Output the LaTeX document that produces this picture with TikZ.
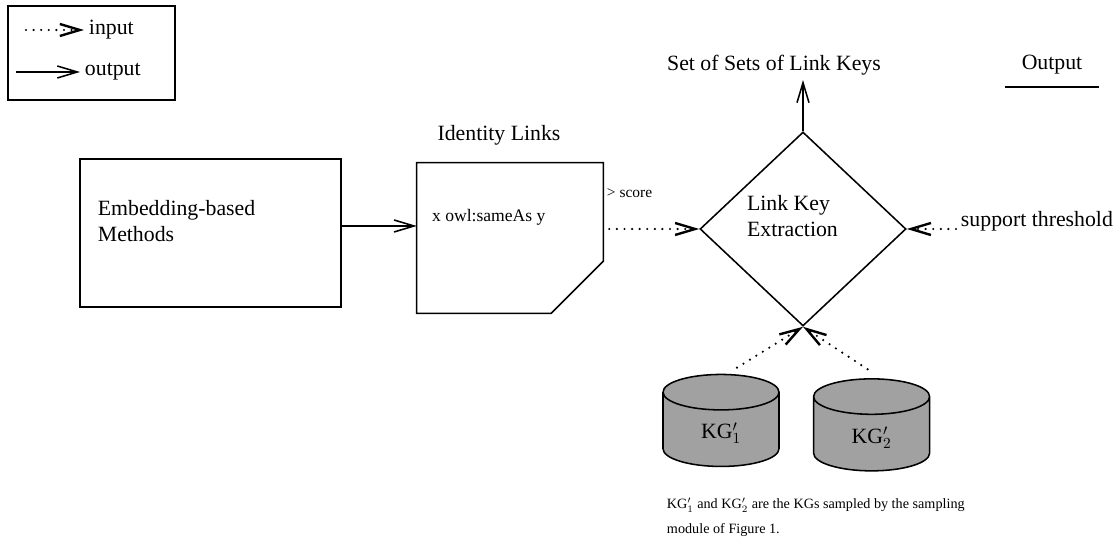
\documentclass[tikz,border=0pt]{standalone}
\usepackage{fontspec}
\setmainfont{Liberation Serif}
\usepackage{tikz}
\usetikzlibrary{shapes.geometric, arrows.meta}
\usetikzlibrary{calc}
\definecolor{kggray}{rgb}{0.63,0.63,0.63}
\tikzstyle{legendbox} = [rectangle, minimum width = 4.175cm, minimum height=2.35cm, draw = black, line width=1.1pt]
\tikzstyle{method} = [rectangle, minimum width = 6.525cm, minimum height=3.7cm, draw = black, line width=1.1pt]
\tikzstyle{links} = [rectangle, minimum width = 4.65cm, minimum height=3.75cm, inner sep=0pt]
\tikzstyle{decision} = [diamond, minimum width = 5.15cm, minimum height=4.85cm, inner sep=0pt, draw = black, line width=1.1pt]
\tikzstyle{kgdb} = [cylinder, shape border rotate=90, aspect=0.72, minimum width = 2.9cm, minimum height=2.3cm, draw = black, fill = kggray, line width=1.1pt]
\tikzstyle{arrow} = [-{Straight Barb[length=0.5cm,width=0.3cm]}, line width=1.1pt]
\tikzstyle{dotarrow} = [arrow, line width=1.7pt, line cap=round, dash pattern=on 0pt off 5.4pt]
\tikzstyle{bigtext} = [font=\fontsize{15.5}{19}\selectfont]

\begin{document}
\begin{tikzpicture}
	\useasboundingbox (0,0) rectangle (27.925,13.55);
	% legend
	\node (legend) [legendbox] at (2.2875,12.225) {};
	\node (lin) [bigtext,anchor=west] at (2.1,12.8) {input};
	\node (lout) [bigtext,anchor=west] at (2.0,11.75) {output};
	\draw [dotarrow]([xshift=-1.45cm]lin.west) -- (lin.west);
	\draw [arrow]([xshift=-1.6cm]lout.west) -- (lout.west);
	
	\node (emb) [method] at (5.2625,7.725) {};
	\node (embtxt) [bigtext,anchor=west,align=left,inner sep=0pt] at (2.44,8.02) {Embedding-based\\Methods};
	\node (idl) [links] at (12.75,7.6) {};
	\draw [line width=1.1pt](idl.north west) -- (idl.north east) -- ([yshift=1.3cm]idl.south east) -- ([xshift=-1.3cm]idl.south east) -- (idl.south west) -- cycle;
	\node (idltitle) [bigtext] at (12.475,10.175) {Identity Links};
	\node (sameas) [anchor=west,font=\fontsize{12.5}{15}\selectfont] at (10.68,8.125) {x owl:sameAs y};
	\node (score) [anchor=west,font=\fontsize{11}{13}\selectfont] at (15.05,8.725) {> score};
	
	\node (kx) [decision] at (20.075,7.825) {};
	\node (kxtxt) [bigtext,anchor=west,align=left,inner sep=0pt] at (18.67,8.15) {Link Key\\Extraction};
	\node (sets) [bigtext] at (19.35,11.925) {Set of Sets of Link Keys};
	\node (out) [bigtext,minimum width=2.35cm,minimum height=1.1cm,inner sep=0pt] at (26.3,11.925) {Output};
	\node (sup) [bigtext,anchor=west] at (23.9,8.025) {support threshold};
	
	\node (kg1) [kgdb,bigtext] at (18.025,2.72) {KG$'_1$};
	\node (kg2) [kgdb,bigtext] at (21.79,2.61) {KG$'_2$};
	\node (note) [anchor=west,align=left,font=\fontsize{10.1}{17.8}\selectfont] at (16.55,0.6125) {KG$'_1$ and KG$'_2$ are the KGs sampled by the sampling\\module of Figure 1.};
	
	\draw [arrow]([yshift=0.175cm]emb.east) -- ([yshift=0.3cm]idl.west);
	\draw [dotarrow]([xshift=0.15cm]idl.east |- kx.west) -- (kx.west);
	\draw [arrow](kx.north) -- (kx.north |- sets.south);
	\draw [dotarrow](sup.west |- kx.east) -- (kx.east);
	\draw [dotarrow]([xshift=0.4cm,yshift=0.15cm]kg1.north) -- (kx.south);
	\draw [dotarrow]([xshift=-0.1cm,yshift=0.22cm]kg2.north) -- (kx.south);
	\draw [line width=1.1pt](out.south west) -- (out.south east);
\end{tikzpicture}
\end{document}
